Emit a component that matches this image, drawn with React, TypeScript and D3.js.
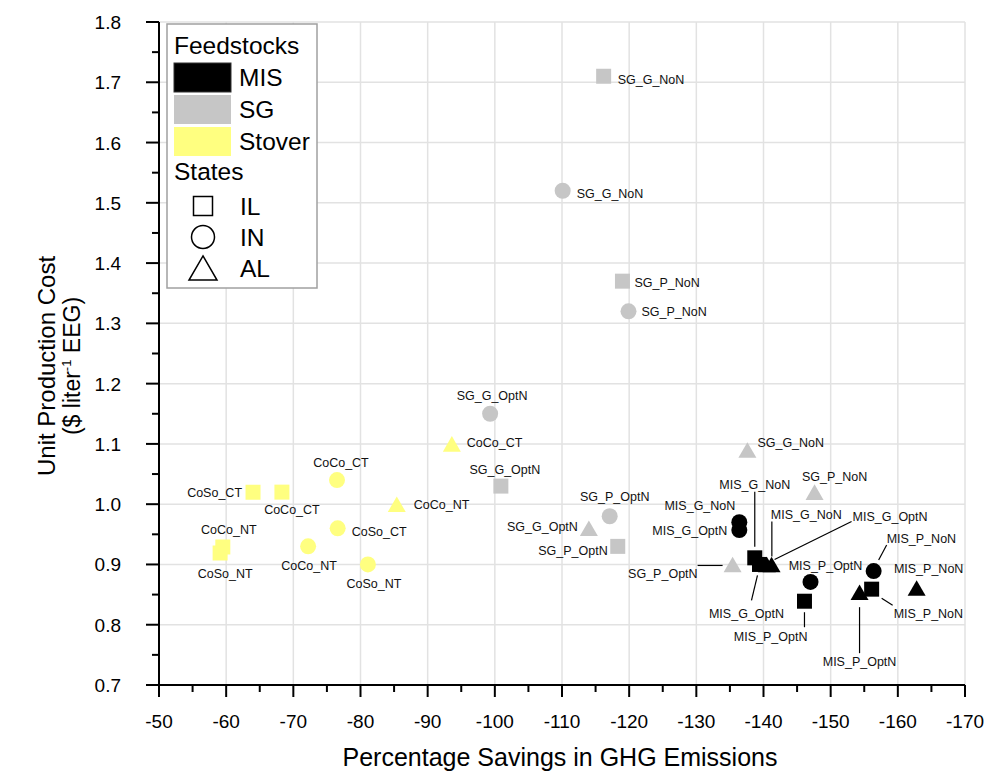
import React from 'react';
import * as d3 from 'd3';

// ---------- DATA ----------
const feedstocks = ['MIS', 'SG', 'Stover'];
const statesList = ['IL', 'IN', 'AL'];
const xTicks = [-50, -60, -70, -80, -90, -100, -110, -120, -130, -140, -150, -160, -170];
const yTicks = [0.7, 0.8, 0.9, 1.0, 1.1, 1.2, 1.3, 1.4, 1.5, 1.6, 1.7, 1.8];

type P = { label: string; x: number; y: number };

const stoverIL: P[] = [
  { label: 'CoSo_CT', x: -64.0, y: 1.02 },
  { label: 'CoCo_CT', x: -68.3, y: 1.02 },
  { label: 'CoCo_NT', x: -59.5, y: 0.929 },
  { label: 'CoSo_NT', x: -59.1, y: 0.919 },
];
const stoverIN: P[] = [
  { label: 'CoCo_CT', x: -76.5, y: 1.04 },
  { label: 'CoSo_CT', x: -76.6, y: 0.96 },
  { label: 'CoCo_NT', x: -72.2, y: 0.93 },
  { label: 'CoSo_NT', x: -81.1, y: 0.90 },
];
const stoverAL: P[] = [
  { label: 'CoCo_CT', x: -93.6, y: 1.10 },
  { label: 'CoCo_NT', x: -85.4, y: 1.00 },
];
const sgIL: P[] = [
  { label: 'SG_G_NoN', x: -116.2, y: 1.71 },
  { label: 'SG_P_NoN', x: -119.0, y: 1.37 },
  { label: 'SG_G_OptN', x: -100.9, y: 1.03 },
  { label: 'SG_P_OptN', x: -118.3, y: 0.93 },
];
const sgIN: P[] = [
  { label: 'SG_G_NoN', x: -110.1, y: 1.52 },
  { label: 'SG_P_NoN', x: -119.9, y: 1.32 },
  { label: 'SG_G_OptN', x: -99.3, y: 1.15 },
  { label: 'SG_P_OptN', x: -117.1, y: 0.98 },
];
const sgAL: P[] = [
  { label: 'SG_G_NoN', x: -137.6, y: 1.09 },
  { label: 'SG_P_NoN', x: -147.6, y: 1.02 },
  { label: 'SG_G_OptN', x: -114.0, y: 0.96 },
  { label: 'SG_P_OptN', x: -135.4, y: 0.90 },
];
const misIN: P[] = [
  { label: 'MIS_G_NoN', x: -136.4, y: 0.97 },
  { label: 'MIS_G_OptN', x: -136.4, y: 0.957 },
  { label: 'MIS_P_OptN', x: -147.0, y: 0.871 },
  { label: 'MIS_P_NoN', x: -156.4, y: 0.889 },
];
const misIL: P[] = [
  { label: 'MIS_G_NoN', x: -138.7, y: 0.911 },
  { label: 'MIS_G_OptN', x: -139.4, y: 0.90 },
  { label: 'MIS_P_OptN', x: -146.1, y: 0.839 },
  { label: 'MIS_P_NoN', x: -156.1, y: 0.859 },
];
const misAL: P[] = [
  { label: 'MIS_G_NoN', x: -140.5, y: 0.90 },
  { label: 'MIS_G_OptN', x: -141.2, y: 0.90 },
  { label: 'MIS_P_OptN', x: -154.3, y: 0.854 },
  { label: 'MIS_P_NoN', x: -162.8, y: 0.861 },
];

// ---------- LAYOUT / STYLE ----------
const W = 988, H = 772;
const M = { left: 159, right: 965, top: 22, bottom: 685 };
const colors: Record<string, string> = { MIS: '#000000', SG: '#c6c6c6', Stover: '#ffff80' };
const FONT = 'Liberation Sans, Arial, sans-serif';

// label placement: [dx, dy(text center), anchor, leader?[x1,y1,x2,y2]] relative to point
type L = [number, number, string, number[]?];
const groups: { fs: string; st: string; pts: P[]; lab: L[] }[] = [
  { fs: 'Stover', st: 'IL', pts: stoverIL, lab: [[-11, 0, 'end'], [10, 17, 'middle'], [6, -17, 'middle'], [5, 20, 'middle']] },
  { fs: 'Stover', st: 'IN', pts: stoverIN, lab: [[4, -18, 'middle'], [14, 3, 'start'], [1, 19, 'middle'], [6, 19, 'middle']] },
  { fs: 'Stover', st: 'AL', pts: stoverAL, lab: [[15, -1, 'start'], [17, 0, 'start']] },
  { fs: 'SG', st: 'IL', pts: sgIL, lab: [[14, 3, 'start'], [12, 1, 'start'], [4, -17, 'middle'], [-10, 4, 'end']] },
  { fs: 'SG', st: 'IN', pts: sgIN, lab: [[14, 3, 'start'], [13, 0, 'start'], [2, -18, 'middle'], [5, -20, 'middle']] },
  { fs: 'SG', st: 'AL', pts: sgAL, lab: [[10, -7, 'start'], [20, -16, 'middle'], [-11, -2, 'end'], [-35, 9, 'end', [-35, 1, -10, 1]]] },
  { fs: 'MIS', st: 'IN', pts: misIN, lab: [[-4, -17, 'end'], [-12, 0, 'end'], [15, -16, 'middle'], [13, -33, 'start', [5, -11, 13, -26]]] },
  { fs: 'MIS', st: 'IL', pts: misIL, lab: [[0, -73, 'middle', [0, -11, 0, -66]], [-13, 49, 'middle', [-2, 11, -8, 36]], [3, 35, 'end', [0, 11, 0, 26]], [22, 24, 'start', [10, 9, 21, 16]]] },
  { fs: 'MIS', st: 'AL', pts: misAL, lab: [[4, -50, 'start', [5, -8, 5, -43]], [81, -48, 'start', [3, -5, 80, -43]], [0, 69, 'middle', [0, 15, 0, 61]], [12, -19, 'middle']] },
];

function shapePath(st: string, cx: number, cy: number, s: number): string {
  if (st === 'IL') return `M${cx - s / 2},${cy - s / 2}h${s}v${s}h${-s}Z`;
  if (st === 'IN') return `M${cx - s / 2},${cy}a${s / 2},${s / 2} 0 1,0 ${s},0a${s / 2},${s / 2} 0 1,0 ${-s},0Z`;
  const h = s * 0.866;
  return `M${cx},${cy - h / 2}L${cx + s / 2},${cy + h / 2}L${cx - s / 2},${cy + h / 2}Z`;
}
const markerSize: Record<string, number> = { IL: 15, IN: 16, AL: 18 };

export default function App() {
  const x = d3.scaleLinear().domain([-50, -170]).range([M.left, M.right]);
  const y = d3.scaleLinear().domain([0.7, 1.8]).range([M.bottom, M.top]);
  const xMinor = d3.range(-55, -170, -10);
  const yMinor = d3.range(0.75, 1.8, 0.1);

  return (
    <svg width={W} height={H} style={{ position: 'absolute', left: 0, top: 0, background: '#fff' }} fontFamily={FONT}>
      {/* grid */}
      {xTicks.slice(1).map(t => (
        <line key={'gx' + t} x1={x(t)} x2={x(t)} y1={M.top} y2={M.bottom} stroke="#e2e2e2" strokeWidth={1.5} />
      ))}
      {yTicks.slice(1).map(t => (
        <line key={'gy' + t} x1={M.left} x2={M.right} y1={y(t)} y2={y(t)} stroke="#e2e2e2" strokeWidth={1.5} />
      ))}
      {/* axes */}
      <line x1={M.left} x2={M.right} y1={M.bottom} y2={M.bottom} stroke="#000" strokeWidth={2} />
      <line x1={M.left} x2={M.left} y1={M.top} y2={M.bottom} stroke="#000" strokeWidth={2} />
      {xTicks.map(t => (
        <g key={'xt' + t}>
          <line x1={x(t)} x2={x(t)} y1={M.bottom} y2={M.bottom + 12} stroke="#000" strokeWidth={2} />
          <text x={x(t)} y={M.bottom + 43} textAnchor="middle" fontSize={19}>{t}</text>
        </g>
      ))}
      {xMinor.map(t => (
        <line key={'xm' + t} x1={x(t)} x2={x(t)} y1={M.bottom} y2={M.bottom + 7} stroke="#000" strokeWidth={2} />
      ))}
      {yTicks.map(t => (
        <g key={'yt' + t}>
          <line x1={M.left - 13} x2={M.left} y1={y(t)} y2={y(t)} stroke="#000" strokeWidth={2} />
          <text x={M.left - 38} y={y(t) + 7} textAnchor="end" fontSize={19}>{d3.format('.1f')(t)}</text>
        </g>
      ))}
      {yMinor.map(t => (
        <line key={'ym' + t} x1={M.left - 7} x2={M.left} y1={y(t)} y2={y(t)} stroke="#000" strokeWidth={2} />
      ))}
      <text x={(M.left + M.right) / 2 - 2} y={766} textAnchor="middle" fontSize={25}>Percentage Savings in GHG Emissions</text>
      <g transform={`translate(55, ${366}) rotate(-90)`}>
        <text x={0} y={0} textAnchor="middle" fontSize={24}>Unit Production Cost</text>
        <text x={0} y={25} textAnchor="middle" fontSize={23}>
          ($ liter<tspan dy={-9} fontSize={13}>-1</tspan><tspan dy={9}> EEG)</tspan>
        </text>
      </g>

      {/* leader lines */}
      {groups.map((g, gi) => g.pts.map((p, i) => {
        const l = g.lab[i];
        if (!l[3]) return null;
        const cx = x(p.x), cy = y(p.y);
        return <line key={`ld${gi}-${i}`} x1={cx + l[3][0]} y1={cy + l[3][1]} x2={cx + l[3][2]} y2={cy + l[3][3]} stroke="#000" strokeWidth={1.2} />;
      }))}
      {/* markers */}
      {groups.map((g, gi) => g.pts.map((p, i) => (
        <path key={`m${gi}-${i}`} d={shapePath(g.st, x(p.x), y(p.y), markerSize[g.st])} fill={colors[g.fs]} />
      )))}
      {/* labels */}
      {groups.map((g, gi) => g.pts.map((p, i) => {
        const l = g.lab[i];
        return (
          <text key={`t${gi}-${i}`} x={x(p.x) + l[0]} y={y(p.y) + l[1] + 4.5} textAnchor={l[2] as any} fontSize={12.5} fill="#111">{p.label}</text>
        );
      }))}

      {/* legend */}
      <g>
        <rect x={167} y={24} width={150} height={264} fill="#fff" stroke="#a0a0a0" strokeWidth={1.5} />
        <text x={174} y={54} fontSize={24.5}>Feedstocks</text>
        {feedstocks.map((f, i) => (
          <g key={'lf' + f}>
            <rect x={174} y={63 + i * 32} width={57} height={29} fill={colors[f]} stroke={f === 'MIS' ? '#333' : 'none'} />
            <text x={239} y={86 + i * 32} fontSize={24.5}>{f}</text>
          </g>
        ))}
        <text x={174} y={180} fontSize={24.5}>States</text>
        {statesList.map((s, i) => (
          <g key={'ls' + s}>
            <path d={shapePath(s, 203, 206 + i * 31, s === 'IL' ? 19 : s === 'IN' ? 23 : 28)} fill="none" stroke="#000" strokeWidth={1.5} />
            <text x={240} y={215 + i * 31} fontSize={24.5}>{s}</text>
          </g>
        ))}
      </g>
    </svg>
  );
}
